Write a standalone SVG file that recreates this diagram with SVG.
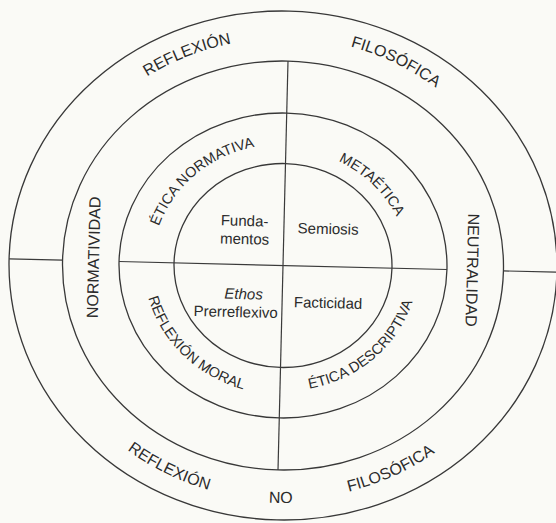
<svg xmlns="http://www.w3.org/2000/svg" width="556" height="523" viewBox="0 0 556 523">
<style>
.ring{fill:none;stroke:#383838;stroke-width:1.3}
.ln{stroke:#3a3a3a;stroke-width:1.2;fill:none}
.big{font-family:"Liberation Sans",Arial,sans-serif;font-size:16px;fill:#2b2b2b}
.mid{font-family:"Liberation Sans",Arial,sans-serif;font-size:14.5px;fill:#2b2b2b}
.in{font-family:"Liberation Sans",Arial,sans-serif;font-size:15px;fill:#2b2b2b;text-anchor:middle}
</style>
<defs>
<path id="pTopL" d="M84.0,134.2 A244,227 0 0 1 305.7,39.5"/>
<path id="pTopR" d="M267.2,38.0 A245.1,228 0 0 1 486.9,139.0"/>
<path id="pBotL" d="M72.0,394.7 A252.6,235 0 0 0 297.8,500.1"/>
<path id="pBotN" d="M199.0,489.8 A255.3,237.5 0 0 0 373.7,487.5"/>
<path id="pBotR" d="M273.3,499.3 A251.6,234 0 0 0 495.9,390.2"/>
<path id="pEN" d="M154.8,240.5 A130.6,121.5 0 0 1 263.2,145.4"/>
<path id="pME" d="M304.4,150.7 A125.2,116.5 0 0 1 406.2,244.9"/>
<path id="pRM" d="M146.0,288.3 A139.2,129.5 0 0 0 259.1,393.0"/>
<path id="pED" d="M303.6,389.6 A134.9,125.5 0 0 0 415.4,289.9"/>
</defs>
<rect width="556" height="523" fill="#fafaf6"/>
<g transform="rotate(1.4 283 265.5)">
<g id="outer-ring">
<ellipse class="ring" cx="283" cy="265.5" rx="274" ry="254.5"/>
<text class="big"><textPath href="#pTopL" startOffset="50%" text-anchor="middle">REFLEXIÓN</textPath></text>
<text class="big"><textPath href="#pTopR" startOffset="50%" text-anchor="middle">FILOSÓFICA</textPath></text>
<text class="big"><textPath href="#pBotL" startOffset="50%" text-anchor="middle">REFLEXIÓN</textPath></text>
<text class="big"><textPath href="#pBotN" startOffset="50%" text-anchor="middle">NO</textPath></text>
<text class="big"><textPath href="#pBotR" startOffset="50%" text-anchor="middle">FILOSÓFICA</textPath></text>
</g>
<g id="middle-ring">
<ellipse class="ring" cx="283" cy="265.5" rx="220.5" ry="204.5"/>
<text class="big" text-anchor="middle" transform="translate(99,262) rotate(-90)">NORMATIVIDAD</text>
<text class="big" text-anchor="middle" transform="translate(467,265.5) rotate(90)">NEUTRALIDAD</text>
</g>
<g id="ethics-ring">
<ellipse class="ring" cx="283" cy="265.5" rx="164" ry="152.5"/>
<text class="mid"><textPath href="#pEN" startOffset="50%" text-anchor="middle">ÉTICA NORMATIVA</textPath></text>
<text class="mid"><textPath href="#pME" startOffset="50%" text-anchor="middle">METAÉTICA</textPath></text>
<text class="mid"><textPath href="#pRM" startOffset="50%" text-anchor="middle">REFLEXIÓN MORAL</textPath></text>
<text class="mid"><textPath href="#pED" startOffset="50%" text-anchor="middle">ÉTICA DESCRIPTIVA</textPath></text>
</g>
<g id="core">
<ellipse class="ring" cx="283" cy="265.5" rx="109" ry="102"/>
<g id="q-fundamentos"><text class="in" x="243.5" y="226.9">Funda-</text><text class="in" x="244" y="245">mentos</text></g>
<g id="q-semiosis"><text class="in" x="327.2" y="232.9">Semiosis</text></g>
<g id="q-ethos"><text class="in" x="244.3" y="300" font-style="italic">Ethos</text><text class="in" x="236.8" y="318.2">Prerreflexivo</text></g>
<g id="q-facticidad"><text class="in" x="329" y="306.9">Facticidad</text></g>
</g>
<g id="connectors">
<line class="ln" x1="9" y1="265.5" x2="62.5" y2="265.5"/>
<line class="ln" x1="119" y1="265.5" x2="447" y2="265.5"/>
<line class="ln" x1="503.5" y1="265.5" x2="560" y2="265.5"/>
<line class="ln" x1="283" y1="61" x2="283" y2="470"/>
</g>
</g>
</svg>
